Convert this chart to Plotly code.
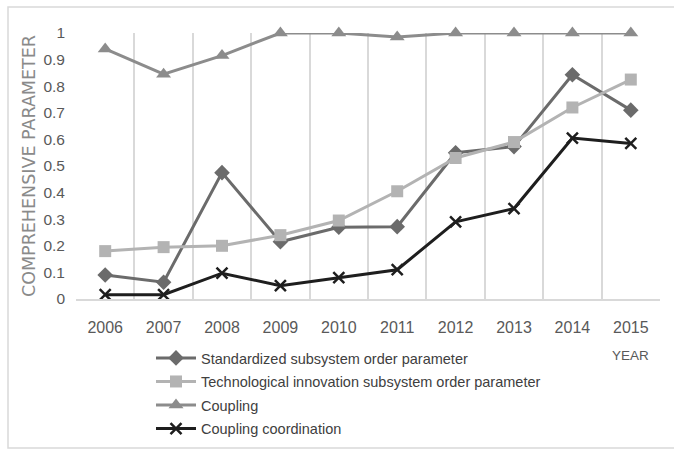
import plotly.graph_objects as go

years = [2006, 2007, 2008, 2009, 2010, 2011, 2012, 2013, 2014, 2015]
year_labels = ["2006", "2007", "2008", "2009", "2010", "2011", "2012", "2013", "2014", "2015"]
standardized = [0.09, 0.063, 0.475, 0.215, 0.27, 0.272, 0.55, 0.573, 0.843, 0.71]
tech_innovation = [0.18, 0.195, 0.2, 0.24, 0.295, 0.405, 0.53, 0.59, 0.72, 0.825]
coupling = [0.94, 0.845, 0.915, 1.0, 1.0, 0.985, 1.0, 1.0, 1.0, 1.0]
coordination = [0.016, 0.016, 0.097, 0.05, 0.08, 0.11, 0.29, 0.34, 0.605, 0.585]

series_names = [
    "Standardized subsystem order parameter",
    "Technological innovation subsystem order parameter",
    "Coupling",
    "Coupling coordination",
]

FONT = "Liberation Sans, Arial, sans-serif"

fig = go.Figure()
specs = [
    (standardized, series_names[0], "#6b6b6b", "diamond", 12, 0),
    (tech_innovation, series_names[1], "#b3b3b3", "square", 12, 0),
    (coupling, series_names[2], "#8c8c8c", "triangle-up", 13, 0),
    (coordination, series_names[3], "#1e1e1e", "x-thin", 11, 2.5),
]
for i, (vals, name, col, sym, sz, lw) in enumerate(specs):
    fig.add_trace(go.Scatter(
        x=years, y=vals, name=name, mode="lines+markers",
        line=dict(color=col, width=3),
        marker=dict(symbol=sym, size=sz, color=col, line=dict(color=col, width=lw)),
        cliponaxis=False, legendgroup="g%d" % i,
    ))

L, R, T, B = 76, 14, 33, 151
W, H = 674, 450
pw, ph = W - L - R, H - T - B

def px(x):
    return (x - L) / pw

def py(y):
    return (H - B - y) / ph

fig.update_layout(
    width=W, height=H,
    margin=dict(l=L, r=R, t=T, b=B, autoexpand=False),
    paper_bgcolor="white", plot_bgcolor="white",
    showlegend=True,
    legend=dict(
        xref="paper", yref="container",
        x=px(151), y=1 - 342 / H, xanchor="left", yanchor="top",
        font=dict(family=FONT, size=14.5, color="#404040"),
        itemwidth=40, tracegroupgap=1.7, bgcolor="rgba(0,0,0,0)",
    ),
    xaxis=dict(
        range=[years[0] - 0.5, years[-1] + 0.5], automargin=False,
        tickmode="array", tickvals=years, ticktext=year_labels,
        showgrid=False, showline=True, linecolor="#d9d9d9", linewidth=1.5,
        ticks="", ticklabelstandoff=13, zeroline=False,
        minor=dict(tick0=years[0] - 0.5, dtick=1, showgrid=True,
                   gridcolor="#d9d9d9", gridwidth=1.5, ticks=""),
        tickfont=dict(family=FONT, size=16, color="#595959"),
    ),
    yaxis=dict(
        range=[0, 1], dtick=0.1, tick0=0, showgrid=False, zeroline=False,
        showline=False, ticks="", ticklabelstandoff=10, automargin=False,
        tickfont=dict(family=FONT, size=15.5, color="#595959"),
    ),
    annotations=[
        dict(text="COMPREHENSIVE PARAMETER", xref="paper", yref="paper",
             x=px(29), y=py(166), textangle=-90, showarrow=False,
             font=dict(family="DejaVu Sans, sans-serif", size=17.5, color="#8a8a8a"),
             xanchor="center", yanchor="middle"),
        dict(text="YEAR", xref="x", yref="paper", x=years[-1], y=py(355),
             showarrow=False, xanchor="center", yanchor="middle",
             font=dict(family=FONT, size=13.5, color="#595959")),
    ],
    shapes=[
        dict(type="rect", xref="paper", yref="paper",
             x0=px(8), x1=px(680), y0=py(448), y1=py(7),
             line=dict(color="#d9d9d9", width=1.5), fillcolor="rgba(0,0,0,0)",
             layer="below"),
    ],
)

fig.write_html("out.html")
